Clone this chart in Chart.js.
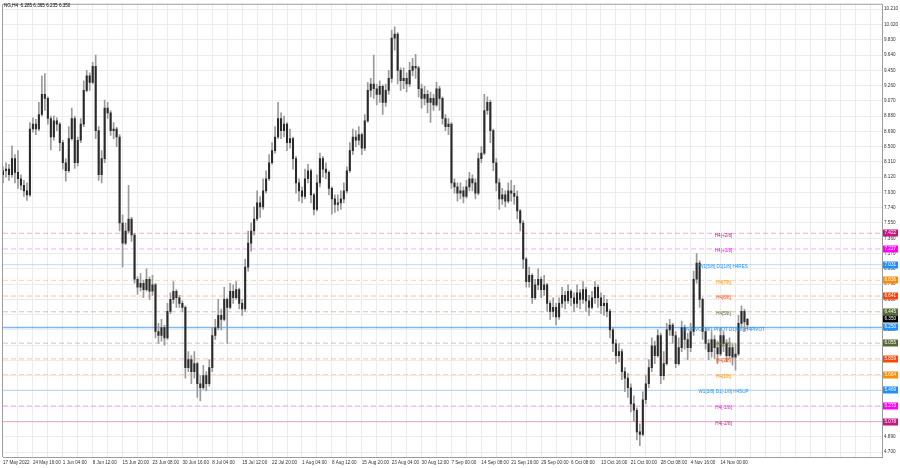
<!DOCTYPE html>
<html><head><meta charset="utf-8">
<script src="https://cdn.jsdelivr.net/npm/chart.js@4.4.0/dist/chart.umd.min.js"></script>
<style>html,body{margin:0;padding:0;background:#fff;}canvas{display:block;}</style>
</head><body>
<canvas id="c" width="900" height="468"></canvas>
<script>
const symbolTitle = "NG,H4  6.285 6.365 6.235 6.350";
const dateTickLabels = ["17 May 2022","24 May 16:00","1 Jun 04:00","8 Jun 12:00","15 Jun 20:00","23 Jun 08:00","30 Jun 16:00","8 Jul 04:00","15 Jul 12:00","22 Jul 20:00","1 Aug 04:00","8 Aug 12:00","15 Aug 20:00","23 Aug 04:00","30 Aug 12:00","7 Sep 00:00","14 Sep 08:00","21 Sep 16:00","29 Sep 00:00","6 Oct 08:00","13 Oct 16:00","21 Oct 00:00","28 Oct 08:00","4 Nov 16:00","14 Nov 00:00"];
const yTickValues = [4.700,4.890,5.080,5.270,5.460,5.650,5.840,6.030,6.220,6.410,6.600,6.790,6.980,7.170,7.360,7.550,7.740,7.930,8.120,8.310,8.500,8.690,8.880,9.070,9.260,9.450,9.640,9.830,10.020,10.210];
// [open, high, low, close]
const candles = [
[8.15,8.25,8.05,8.20],[8.20,8.30,8.12,8.22],[8.22,8.28,8.08,8.15],[8.15,8.51,8.12,8.35],[8.35,8.40,8.05,8.18],
[8.18,8.45,7.98,8.10],[8.10,8.15,7.96,8.02],[8.02,8.08,7.88,7.95],[7.95,8.05,7.83,7.90],[7.90,8.80,7.88,8.72],
[8.72,8.86,8.68,8.78],[8.78,8.84,8.65,8.72],[8.72,9.05,8.70,8.90],[8.90,9.38,8.88,9.15],[9.15,9.41,8.95,9.10],
[9.10,9.12,8.78,8.85],[8.85,8.88,8.46,8.62],[8.62,8.88,8.58,8.82],[8.82,8.86,8.70,8.78],[8.78,8.80,8.45,8.55],
[8.55,8.58,8.22,8.30],[8.30,8.35,8.07,8.20],[8.20,8.75,8.18,8.60],[8.60,8.98,8.58,8.85],[8.85,8.88,8.23,8.30],
[8.30,8.62,8.26,8.58],[8.58,8.85,8.55,8.78],[8.78,9.32,8.75,9.20],[9.20,9.45,9.18,9.38],[9.38,9.42,9.20,9.30],
[9.30,9.55,9.28,9.50],[9.50,9.64,8.60,8.70],[8.70,8.75,8.08,8.15],[8.15,8.45,8.05,8.35],[8.35,9.08,8.30,8.98],
[8.98,9.05,8.85,8.92],[8.92,8.95,8.64,8.70],[8.70,8.80,8.60,8.72],[8.72,8.74,8.50,8.62],[8.62,8.65,7.45,7.55],
[7.55,7.65,7.00,7.30],[7.30,7.55,7.28,7.45],[7.45,8.02,7.42,7.60],[7.60,7.62,7.32,7.40],[7.40,7.42,6.80,6.85],
[6.85,6.88,6.66,6.75],[6.75,6.92,6.70,6.80],[6.80,6.84,6.62,6.72],[6.72,6.98,6.70,6.85],[6.85,6.88,6.60,6.70],
[6.70,6.90,6.65,6.78],[6.78,6.80,6.12,6.20],[6.20,6.30,6.05,6.15],[6.15,6.35,6.08,6.25],[6.25,6.28,6.03,6.12],
[6.12,6.55,6.10,6.45],[6.45,6.68,6.42,6.60],[6.60,6.82,6.55,6.70],[6.70,6.72,6.50,6.62],[6.62,6.65,6.50,6.55],
[6.55,6.58,6.45,6.50],[6.50,6.52,5.62,5.75],[5.75,5.95,5.70,5.85],[5.85,5.90,5.55,5.70],[5.70,5.95,5.62,5.80],
[5.80,5.82,5.38,5.55],[5.55,5.65,5.34,5.50],[5.50,5.78,5.48,5.65],[5.65,5.70,5.46,5.55],[5.55,5.85,5.52,5.75],
[5.75,6.25,5.70,6.15],[6.15,6.35,6.10,6.25],[6.25,6.60,6.22,6.40],[6.40,6.48,6.22,6.35],[6.35,6.75,6.33,6.60],
[6.60,6.62,6.05,6.50],[6.50,6.80,6.48,6.70],[6.70,6.78,6.55,6.62],[6.62,6.82,6.60,6.72],[6.72,6.74,6.48,6.55],
[6.55,6.60,6.40,6.48],[6.48,7.10,6.45,7.00],[7.00,7.45,6.95,7.30],[7.30,7.55,7.20,7.45],[7.45,7.75,7.40,7.60],
[7.60,7.95,7.58,7.80],[7.80,7.88,7.62,7.75],[7.75,8.10,7.72,7.95],[7.95,8.20,7.92,8.10],[8.10,8.40,8.08,8.30],
[8.30,8.55,8.28,8.45],[8.45,8.75,8.42,8.62],[8.62,9.05,8.60,8.85],[8.85,8.92,8.60,8.70],[8.70,8.88,8.62,8.78],
[8.78,8.80,8.45,8.55],[8.55,8.72,8.48,8.60],[8.60,8.62,8.22,8.35],[8.35,8.38,7.92,8.05],[8.05,8.10,7.82,7.95],
[7.95,8.00,7.80,7.88],[7.88,8.22,7.85,8.10],[8.10,8.28,8.05,8.20],[8.20,8.22,7.80,7.90],[7.90,7.92,7.65,7.72],
[7.72,8.15,7.70,8.05],[8.05,8.42,8.00,8.35],[8.35,8.38,8.12,8.22],[8.22,8.30,8.10,8.18],[8.18,8.20,7.90,7.98],
[7.98,8.00,7.66,7.85],[7.85,7.90,7.68,7.78],[7.78,7.90,7.70,7.80],[7.80,7.95,7.72,7.85],[7.85,8.05,7.80,7.95],
[7.95,8.25,7.92,8.20],[8.20,8.55,8.18,8.45],[8.45,8.72,8.40,8.62],[8.62,8.70,8.50,8.58],[8.58,8.75,8.52,8.65],
[8.65,8.67,8.40,8.48],[8.48,8.90,8.45,8.82],[8.82,9.30,8.80,9.20],[9.20,9.35,9.12,9.28],[9.28,9.64,9.10,9.22],
[9.22,9.28,9.02,9.15],[9.15,9.32,9.05,9.25],[9.25,9.27,8.90,9.05],[9.05,9.28,9.00,9.20],[9.20,9.45,9.15,9.35],
[9.35,9.95,9.30,9.85],[9.85,9.99,9.70,9.90],[9.90,9.92,9.28,9.45],[9.45,9.48,9.20,9.32],[9.32,9.48,9.22,9.35],
[9.35,9.42,9.18,9.28],[9.28,9.55,9.25,9.45],[9.45,9.60,9.38,9.50],[9.50,9.65,9.35,9.48],[9.48,9.50,9.12,9.22],
[9.22,9.28,8.98,9.10],[9.10,9.25,9.02,9.15],[9.15,9.20,8.92,9.05],[9.05,9.18,8.80,9.10],[9.10,9.15,8.95,9.02],
[9.02,9.30,9.00,9.22],[9.22,9.25,8.95,9.10],[9.10,9.12,8.78,8.85],[8.85,8.90,8.70,8.75],[8.75,8.85,8.65,8.78],
[8.78,8.80,7.98,8.05],[8.05,8.10,7.92,8.00],[8.00,8.05,7.82,7.92],[7.92,8.05,7.85,7.95],[7.95,8.00,7.80,7.88],
[7.88,8.08,7.86,8.00],[8.00,8.18,7.95,8.10],[8.10,8.15,7.95,8.05],[8.05,8.10,7.85,7.92],[7.92,8.42,7.90,8.35],
[8.35,8.50,8.30,8.42],[8.42,9.15,8.40,8.95],[8.95,9.12,8.90,9.05],[9.05,9.08,8.55,8.70],[8.70,8.72,8.20,8.30],
[8.30,8.35,7.95,8.05],[8.05,8.10,7.72,7.85],[7.85,7.98,7.78,7.90],[7.90,7.95,7.75,7.82],[7.82,8.05,7.80,7.95],
[7.95,8.08,7.82,7.92],[7.92,8.02,7.78,7.88],[7.88,7.95,7.60,7.70],[7.70,7.72,7.45,7.55],[7.55,7.58,6.98,7.10],
[7.10,7.12,6.75,6.82],[6.82,7.00,6.75,6.90],[6.90,6.92,6.55,6.62],[6.62,6.85,6.60,6.78],[6.78,6.98,6.72,6.85],
[6.85,6.88,6.62,6.72],[6.72,6.90,6.65,6.78],[6.78,6.80,6.45,6.55],[6.55,6.58,6.35,6.45],[6.45,6.62,6.38,6.50],
[6.50,6.55,6.28,6.38],[6.38,6.62,6.35,6.55],[6.55,6.75,6.50,6.65],[6.65,6.70,6.48,6.58],[6.58,6.78,6.55,6.70],
[6.70,6.72,6.52,6.62],[6.62,6.68,6.45,6.55],[6.55,6.78,6.50,6.68],[6.68,6.72,6.48,6.60],[6.60,6.82,6.55,6.72],
[6.72,6.75,6.45,6.58],[6.58,6.65,6.40,6.50],[6.50,6.70,6.48,6.62],[6.62,6.82,6.55,6.75],[6.75,6.78,6.50,6.62],
[6.62,6.68,6.42,6.52],[6.52,6.65,6.40,6.55],[6.55,6.60,6.38,6.45],[6.45,6.48,6.12,6.22],[6.22,6.25,5.95,6.05],
[6.05,6.10,5.80,5.90],[5.90,6.05,5.82,5.95],[5.95,5.98,5.60,5.70],[5.70,5.75,5.45,5.62],[5.62,5.68,5.38,5.50],
[5.50,5.55,5.20,5.30],[5.30,5.40,5.08,5.22],[5.22,5.25,4.85,4.95],[4.95,5.05,4.78,4.92],[4.92,5.45,4.90,5.35],
[5.35,5.65,5.30,5.55],[5.55,5.85,5.50,5.75],[5.75,6.12,5.70,6.02],[6.02,6.08,5.80,5.90],[5.90,6.22,5.88,6.15],
[6.15,6.18,5.55,5.65],[5.65,5.95,5.60,5.80],[5.80,6.30,5.78,6.22],[6.22,6.35,6.15,6.28],[6.28,6.30,6.05,6.15],
[6.15,6.20,5.75,5.80],[5.80,6.12,5.78,6.00],[6.00,6.33,5.95,6.25],[6.25,6.28,5.98,6.10],[6.10,6.18,5.85,6.00],
[6.00,6.30,5.95,6.20],[6.20,6.95,6.15,6.85],[6.85,7.17,6.80,7.05],[7.05,7.08,6.50,6.60],[6.60,6.62,6.10,6.20],
[6.20,6.25,5.98,6.05],[6.05,6.10,5.85,5.95],[5.95,6.20,5.88,6.10],[6.10,6.15,5.86,6.00],[6.00,6.08,5.80,5.92],
[5.92,6.25,5.90,6.15],[6.15,6.20,5.95,6.05],[6.05,6.10,5.82,5.90],[5.90,6.12,5.86,6.00],[6.00,6.05,5.78,5.88],
[5.88,6.05,5.72,5.92],[5.92,6.40,5.90,6.30],[6.30,6.52,6.25,6.45],[6.45,6.48,6.20,6.32],[6.285,6.365,6.235,6.350]
];
const levelValues = [7.422,7.227,7.031,6.836,6.641,6.445,6.250,6.055,5.859,5.664,5.469,5.273,5.078];
const levelNames = ["H4[+2/8]","H4[+1/8]","W1[5/8] D1[1/8] H4RES","H4[7/8]","H4[6/8]","H4[5/8]","MN PIVOT W1 PIVOT D1[0/8] H4PIVOT","H4[3/8]","H4[2/8]","H4[1/8]","W1[3/8] D1[-1/8] H4SUP","H4[-1/8]","H4[-2/8]"];
const lastPrice = 6.350;

// styles
const levelColors = ["#c71585","#ff00ff","#1e90ff","#ff8c00","#ff4500","#556b2f","#1e90ff","#556b2f","#ff4500","#ff8c00","#1e90ff","#ff00ff","#c71585"];
const levelLineColors = ["rgba(220,40,160,0.4)","rgba(255,0,255,0.35)","rgba(30,144,255,0.3)","rgba(255,140,0,0.35)","rgba(255,69,0,0.35)","rgba(85,107,47,0.35)","rgba(30,144,255,0.6)","rgba(85,107,47,0.35)","rgba(255,69,0,0.35)","rgba(255,140,0,0.35)","rgba(30,144,255,0.3)","rgba(255,0,255,0.35)","rgba(220,40,120,0.3)"];
const levelDashed = [true,true,false,true,true,true,false,true,true,true,false,true,false];
const levelWidths = [1,1,1,1,1,1,1.5,1,1,1,1,1,1.2];
const FONT = '"Liberation Sans", Arial, sans-serif';
const FS = 4.6;
const SLOTS = 295;

const slotLabels = [];
for (let i = 0; i < SLOTS; i++) {
  slotLabels.push(i % 10 === 0 && dateTickLabels[i / 10] ? dateTickLabels[i / 10] : '');
}

const levelDatasets = levelValues.map((v, i) => ({
  type: 'line',
  data: slotLabels.map(() => v),
  borderColor: levelLineColors[i],
  borderWidth: levelWidths[i],
  borderDash: levelDashed[i] ? [5, 3] : [],
  pointRadius: 0,
  order: 10
}));

const overlay = {
  id: 'overlay',
  afterDatasetsDraw(chart) {
    const {ctx, scales: {x, y}} = chart;
    ctx.save();
    ctx.font = FS + 'px ' + FONT;
    ctx.textAlign = 'center';
    ctx.textBaseline = 'middle';
    const cx = x.getPixelForValue(241);
    levelValues.forEach((v, i) => {
      ctx.fillStyle = levelColors[i];
      ctx.fillText(levelNames[i], cx, y.getPixelForValue(v) + 2);
    });
    ctx.restore();
  },
  afterDraw(chart) {
    const {ctx, chartArea: a, scales: {y}} = chart;
    ctx.save();
    ctx.strokeStyle = '#9c9c9c';
    ctx.lineWidth = 1;
    ctx.beginPath();
    ctx.moveTo(a.left - 0.5, a.bottom);
    ctx.lineTo(a.left - 0.5, a.top - 0.5);
    ctx.lineTo(a.right, a.top - 0.5);
    ctx.stroke();
    ctx.font = FS + 'px ' + FONT;
    ctx.textBaseline = 'middle';
    ctx.textAlign = 'left';
    const tags = levelValues.map((v, i) => [v, levelColors[i]]);
    tags.push([lastPrice, '#000000']);
    tags.forEach(([v, col]) => {
      const py = Math.round(y.getPixelForValue(v));
      ctx.fillStyle = col;
      ctx.fillRect(a.right + 1, py - 3.5, 15, 7);
      ctx.fillStyle = '#ffffff';
      ctx.fillText(v.toFixed(3), a.right + 2.5, py);
    });
    ctx.fillStyle = '#000000';
    ctx.fillText(symbolTitle, 4, 5.5);
    ctx.restore();
  }
};

new Chart(document.getElementById('c'), {
  type: 'bar',
  data: {
    labels: slotLabels,
    datasets: [
      {
        data: candles.map(c => [c[0], c[3]]),
        backgroundColor: '#2a2a2a',
        barThickness: 1.4,
        grouped: false,
        order: 0
      },
      {
        data: candles.map(c => [c[2], c[1]]),
        backgroundColor: '#9a9a9a',
        barThickness: 1,
        grouped: false,
        order: 1
      },
      ...levelDatasets
    ]
  },
  options: {
    responsive: false,
    animation: false,
    devicePixelRatio: 1,
    layout: {padding: {left: 1, top: 1, right: 0, bottom: 0}},
    plugins: {legend: {display: false}, tooltip: {enabled: false}},
    scales: {
      x: {
        type: 'category',
        offset: false,
        grid: {
          offset: false,
          drawTicks: false,
          color: c => (c.index % 5 === 0 && c.index > 0) ? '#ececec' : 'rgba(0,0,0,0)'
        },
        border: {display: true, color: '#9c9c9c'},
        afterFit: s => { s.height = 11; },
        ticks: {
          autoSkip: false, maxRotation: 0, minRotation: 0, align: 'start',
          padding: 3, color: '#333', font: {family: FONT, size: FS}
        }
      },
      y: {
        position: 'right',
        min: 4.638,
        max: 10.2655,
        afterBuildTicks: s => { s.ticks = yTickValues.map(v => ({value: v})); },
        afterFit: s => { s.width = 18; },
        grid: {color: '#ececec', drawTicks: false},
        border: {display: true, color: '#9c9c9c'},
        ticks: {
          padding: 2, color: '#333', font: {family: FONT, size: FS},
          callback: v => Number(v).toFixed(3)
        }
      }
    }
  },
  plugins: [overlay]
});
</script>
</body></html>
